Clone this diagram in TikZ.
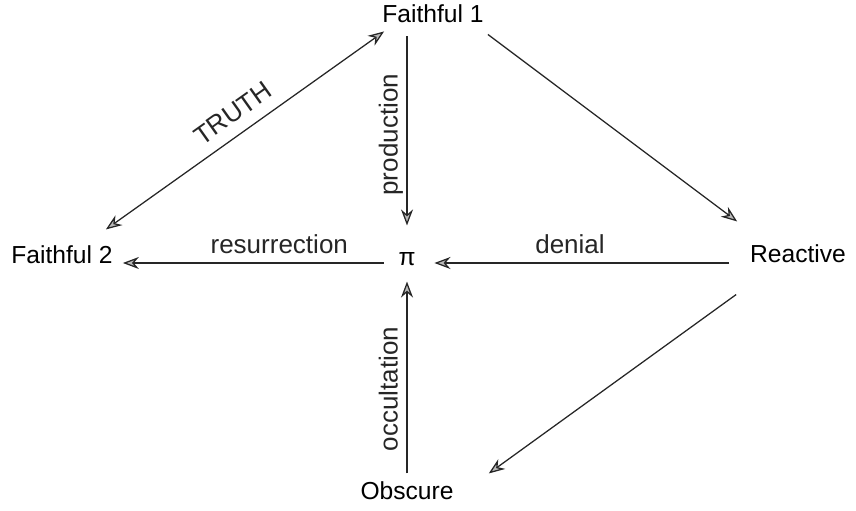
\documentclass[tikz,border=0pt]{standalone}
\usepackage{fontspec}
\setmainfont{Liberation Sans}
\usepackage{tikz}
\usetikzlibrary{arrows.meta}

\begin{document}
\begin{tikzpicture}[
    x=0.025cm, y=-0.025cm,
    >={Stealth[length=4mm, width=3mm, inset=1.3mm, fill=gray!55]},
    term/.style={inner sep=0pt, text height=0.75em, text depth=0pt, font=\fontsize{17.5pt}{20pt}\selectfont},
    lbl/.style={inner sep=4pt, text height=0.75em, text depth=0.22em, font=\fontsize{18.5pt}{21pt}\selectfont},
    arrow/.style={->, line width=0.9pt, black!85},
    dblarrow/.style={<->, line width=0.9pt, black!85},
]
    \useasboundingbox (0,0) rectangle (856,511);

    \node[term] (f1) at (433,17.5) {Faithful 1};
    \node[term] (f2) at (62,258) {Faithful 2};
    \node[term] (pi) at (407,260) {π};
    \node[term] (react) at (798,257) {Reactive};
    \node[term] (obsc) at (407,494) {Obscure};

    % Faithful 1 <-> Faithful 2
    \draw[dblarrow] ([shift={(-7,-23)}]f2.north east) -- node[lbl, pos=.5, above, sloped, inner sep=6pt] {TRUTH} ([shift={(2,8.4)}]f1.south west);

    % into and out of pi
    \draw[arrow] ([shift={(-26,13.4)}]f1.south) -- node[lbl, pos=.52, rotate=90, anchor=south] {production} ([shift={(0,-29)}]pi.north);
    \draw[arrow] ([shift={(-14.7,3)}]pi.west) -- node[lbl, pos=.40, above] {resurrection} ([shift={(10,5)}]f2.east);
    \draw[arrow] ([shift={(-20.7,6)}]react.west) -- node[lbl, pos=.54, above] {denial} ([shift={(18.7,3)}]pi.east);
    \draw[arrow] ([shift={(0,-15)}]obsc.north) -- node[lbl, pos=.44, rotate=90, anchor=south] {occultation} ([shift={(0,16)}]pi.south);

    % outer edges
    \draw[arrow] ([shift={(4,11.4)}]f1.south east) -- ([shift={(-12.7,-30)}]react.north west);
    \draw[arrow] ([shift={(-13.7,32)}]react.south west) -- ([shift={(35,-15)}]obsc.north east);
\end{tikzpicture}
\end{document}
